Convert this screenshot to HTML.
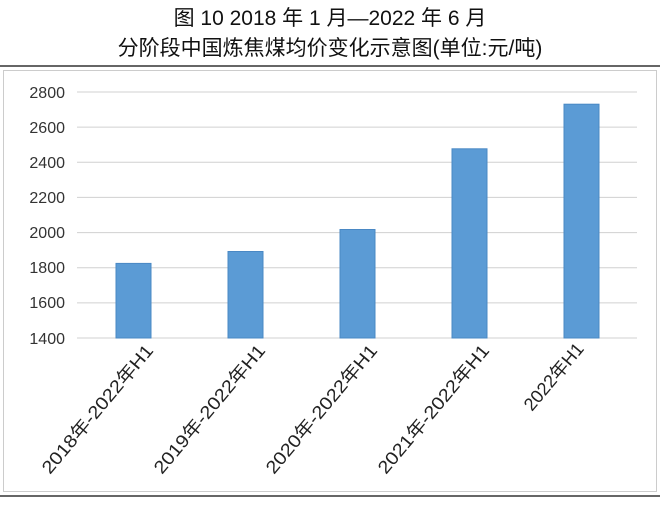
<!DOCTYPE html>
<html><head><meta charset="utf-8"><style>
body{margin:0;background:#fff;width:660px;height:501px;overflow:hidden;font-family:"Liberation Sans","Noto Sans CJK SC",sans-serif}
</style></head><body>
<svg width="660" height="501" xmlns="http://www.w3.org/2000/svg">
<text x="330" y="25" text-anchor="middle" font-size="21" font-family="Liberation Sans,Noto Sans CJK SC,sans-serif" fill="#111">图 10 2018 年 1 月—2022 年 6 月</text>
<text x="330" y="55" text-anchor="middle" font-size="21" font-family="Liberation Sans,Noto Sans CJK SC,sans-serif" fill="#111">分阶段中国炼焦煤均价变化示意图(单位:元/吨)</text>
<line x1="0" y1="66" x2="660" y2="66" stroke="#333" stroke-width="1.5"/>
<line x1="0" y1="496" x2="660" y2="496" stroke="#333" stroke-width="1.5"/>
<rect x="3.5" y="70.5" width="653" height="421" fill="#fff" stroke="#ccc"/>
<g stroke="#d0d0d0" stroke-width="1">
<line x1="77" y1="92" x2="637" y2="92"/>
<line x1="77" y1="127.1" x2="637" y2="127.1"/>
<line x1="77" y1="162.3" x2="637" y2="162.3"/>
<line x1="77" y1="197.4" x2="637" y2="197.4"/>
<line x1="77" y1="232.6" x2="637" y2="232.6"/>
<line x1="77" y1="267.7" x2="637" y2="267.7"/>
<line x1="77" y1="302.9" x2="637" y2="302.9"/>
<line x1="77" y1="338" x2="637" y2="338"/>
</g>
<g font-size="16" fill="#333" text-anchor="end">
<text x="65" y="98">2800</text><text x="65" y="133">2600</text><text x="65" y="168">2400</text><text x="65" y="203">2200</text><text x="65" y="238">2000</text><text x="65" y="273">1800</text><text x="65" y="308">1600</text><text x="65" y="344">1400</text>
</g>
<g fill="#5b9bd5" stroke="#4a88c4">
<rect x="116" y="263.4" width="35" height="74.6"/>
<rect x="228" y="251.5" width="35" height="86.5"/>
<rect x="340" y="229.5" width="35" height="108.5"/>
<rect x="452" y="148.8" width="35" height="189.2"/>
<rect x="564" y="104.2" width="35" height="233.8"/>
</g>
<g font-size="18" fill="#222" font-family="Liberation Sans,Noto Sans CJK SC,sans-serif">
<text transform="translate(50,475) rotate(-50)" textLength="162" lengthAdjust="spacingAndGlyphs">2018年-2022年H1</text>
<text transform="translate(162,475) rotate(-50)" textLength="162" lengthAdjust="spacingAndGlyphs">2019年-2022年H1</text>
<text transform="translate(274,475) rotate(-50)" textLength="162" lengthAdjust="spacingAndGlyphs">2020年-2022年H1</text>
<text transform="translate(386,475) rotate(-50)" textLength="162" lengthAdjust="spacingAndGlyphs">2021年-2022年H1</text>
<text transform="translate(532,412) rotate(-50)" textLength="82" lengthAdjust="spacingAndGlyphs">2022年H1</text>
</g>
</svg>
</body></html>
